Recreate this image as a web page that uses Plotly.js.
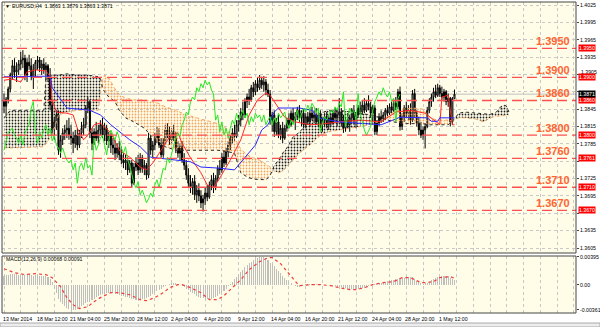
<!DOCTYPE html>
<html><head><meta charset="utf-8">
<script src="https://cdn.plot.ly/plotly-3.0.1.min.js"></script>
<style>html,body{margin:0;padding:0;background:#fff}#c{width:600px;height:327px}</style>
</head><body><div id="c"></div>
<script>
// ---------- DATA (EURUSD H4) ----------
const open=[1.3858,1.3850,1.3862,1.3880,1.3904,1.3920,1.3909,1.3913,1.3923,1.3930,
1.3933,1.3904,1.3926,1.3920,1.3901,1.3913,1.3926,1.3930,1.3916,1.3923,
1.3913,1.3920,1.3899,1.3852,1.3812,1.3823,1.3835,1.3774,1.3792,1.3804,
1.3809,1.3812,1.3800,1.3795,1.3786,1.3800,1.3783,1.3804,1.3812,1.3818,
1.3847,1.3858,1.3804,1.3786,1.3806,1.3795,1.3809,1.3818,1.3800,1.3812,
1.3790,1.3800,1.3783,1.3778,1.3769,1.3778,1.3766,1.3757,1.3752,1.3757,
1.3740,1.3752,1.3717,1.3745,1.3752,1.3740,1.3761,1.3743,1.3748,1.3731,
1.3795,1.3774,1.3783,1.3795,1.3800,1.3783,1.3766,1.3790,1.3809,1.3800,
1.3792,1.3806,1.3795,1.3778,1.3769,1.3780,1.3757,1.3748,1.3731,1.3717,
1.3709,1.3720,1.3697,1.3705,1.3695,1.3683,1.3690,1.3700,1.3693,1.3714,
1.3723,1.3709,1.3726,1.3743,1.3740,1.3762,1.3752,1.3771,1.3783,1.3795,
1.3804,1.3798,1.3818,1.3826,1.3840,1.3835,1.3858,1.3866,1.3861,1.3882,
1.3875,1.3889,1.3882,1.3895,1.3887,1.3892,1.3878,1.3871,1.3826,1.3835,
1.3806,1.3823,1.3800,1.3812,1.3795,1.3812,1.3826,1.3818,1.3838,1.3826,
1.3832,1.3843,1.3830,1.3838,1.3818,1.3832,1.3823,1.3838,1.3830,1.3835,
1.3823,1.3835,1.3818,1.3826,1.3832,1.3818,1.3830,1.3821,1.3838,1.3830,
1.3835,1.3840,1.3821,1.3812,1.3826,1.3818,1.3830,1.3843,1.3826,1.3835,
1.3847,1.3840,1.3852,1.3843,1.3855,1.3849,1.3838,1.3847,1.3806,1.3821,
1.3832,1.3826,1.3835,1.3843,1.3838,1.3849,1.3843,1.3855,1.3849,1.3875,
1.3815,1.3832,1.3847,1.3838,1.3843,1.3826,1.3872,1.3838,1.3821,1.3809,
1.3800,1.3809,1.3815,1.3843,1.3858,1.3866,1.3875,1.3869,1.3882,1.3872,
1.3866,1.3875,1.3858,1.3864,1.3823,1.3863];
const high=[1.3872,1.3866,1.3884,1.3908,1.3930,1.3933,1.3926,1.3930,1.3944,1.3947,
1.3939,1.3933,1.3939,1.3933,1.3923,1.3930,1.3937,1.3935,1.3930,1.3933,
1.3926,1.3923,1.3916,1.3861,1.3830,1.3843,1.3843,1.3800,1.3812,1.3818,
1.3826,1.3830,1.3818,1.3806,1.3809,1.3812,1.3809,1.3823,1.3830,1.3852,
1.3866,1.3861,1.3812,1.3812,1.3823,1.3818,1.3826,1.3830,1.3821,1.3818,
1.3806,1.3804,1.3795,1.3792,1.3786,1.3790,1.3780,1.3769,1.3766,1.3762,
1.3757,1.3757,1.3752,1.3762,1.3766,1.3769,1.3766,1.3757,1.3752,1.3804,
1.3800,1.3790,1.3804,1.3815,1.3812,1.3795,1.3795,1.3818,1.3821,1.3815,
1.3812,1.3818,1.3806,1.3790,1.3786,1.3790,1.3769,1.3757,1.3743,1.3731,
1.3726,1.3731,1.3714,1.3717,1.3705,1.3697,1.3709,1.3714,1.3720,1.3731,
1.3735,1.3731,1.3748,1.3757,1.3769,1.3774,1.3778,1.3790,1.3800,1.3812,
1.3818,1.3826,1.3835,1.3847,1.3858,1.3864,1.3872,1.3880,1.3887,1.3892,
1.3895,1.3899,1.3904,1.3901,1.3902,1.3897,1.3889,1.3878,1.3840,1.3843,
1.3830,1.3835,1.3818,1.3823,1.3818,1.3830,1.3838,1.3843,1.3847,1.3840,
1.3849,1.3852,1.3843,1.3847,1.3838,1.3840,1.3843,1.3849,1.3843,1.3847,
1.3840,1.3843,1.3830,1.3838,1.3840,1.3835,1.3838,1.3843,1.3847,1.3843,
1.3864,1.3847,1.3835,1.3830,1.3838,1.3835,1.3847,1.3852,1.3840,1.3852,
1.3858,1.3861,1.3864,1.3861,1.3869,1.3858,1.3852,1.3852,1.3826,1.3838,
1.3843,1.3840,1.3847,1.3852,1.3855,1.3858,1.3861,1.3866,1.3880,1.3884,
1.3838,1.3852,1.3858,1.3852,1.3855,1.3878,1.3880,1.3843,1.3832,1.3823,
1.3815,1.3820,1.3849,1.3864,1.3872,1.3882,1.3887,1.3889,1.3887,1.3884,
1.3880,1.3878,1.3872,1.3866,1.3866,1.3879];
const low=[1.3838,1.3834,1.3855,1.3874,1.3896,1.3899,1.3892,1.3904,1.3913,1.3916,
1.3895,1.3892,1.3913,1.3895,1.3880,1.3899,1.3913,1.3909,1.3904,1.3906,
1.3895,1.3892,1.3843,1.3800,1.3792,1.3809,1.3766,1.3761,1.3783,1.3792,
1.3795,1.3792,1.3783,1.3769,1.3778,1.3774,1.3778,1.3795,1.3800,1.3812,
1.3838,1.3795,1.3774,1.3783,1.3790,1.3786,1.3800,1.3795,1.3790,1.3783,
1.3778,1.3769,1.3766,1.3757,1.3761,1.3757,1.3750,1.3743,1.3740,1.3731,
1.3735,1.3709,1.3714,1.3738,1.3731,1.3735,1.3735,1.3731,1.3723,1.3726,
1.3766,1.3762,1.3774,1.3786,1.3778,1.3761,1.3761,1.3783,1.3795,1.3783,
1.3786,1.3790,1.3769,1.3761,1.3757,1.3752,1.3740,1.3723,1.3709,1.3700,
1.3697,1.3688,1.3683,1.3686,1.3674,1.3668,1.3679,1.3686,1.3690,1.3705,
1.3700,1.3705,1.3720,1.3731,1.3735,1.3745,1.3748,1.3762,1.3774,1.3786,
1.3790,1.3795,1.3806,1.3815,1.3826,1.3830,1.3847,1.3852,1.3858,1.3866,
1.3869,1.3875,1.3878,1.3880,1.3875,1.3869,1.3866,1.3818,1.3806,1.3797,
1.3800,1.3795,1.3792,1.3786,1.3792,1.3806,1.3812,1.3815,1.3821,1.3809,
1.3826,1.3823,1.3815,1.3812,1.3812,1.3818,1.3815,1.3826,1.3821,1.3818,
1.3815,1.3812,1.3806,1.3815,1.3812,1.3809,1.3815,1.3818,1.3823,1.3815,
1.3826,1.3815,1.3804,1.3806,1.3812,1.3806,1.3823,1.3818,1.3812,1.3830,
1.3835,1.3835,1.3838,1.3840,1.3843,1.3830,1.3826,1.3800,1.3800,1.3815,
1.3821,1.3823,1.3826,1.3832,1.3835,1.3838,1.3840,1.3843,1.3845,1.3808,
1.3809,1.3823,1.3830,1.3826,1.3818,1.3823,1.3830,1.3815,1.3800,1.3795,
1.3792,1.3777,1.3812,1.3838,1.3849,1.3858,1.3864,1.3866,1.3866,1.3861,
1.3858,1.3852,1.3849,1.3815,1.3818,1.3863];
const close=[1.3850,1.3862,1.3880,1.3904,1.3920,1.3909,1.3913,1.3923,1.3930,1.3933,
1.3904,1.3926,1.3920,1.3901,1.3913,1.3926,1.3930,1.3916,1.3923,1.3913,
1.3920,1.3899,1.3852,1.3812,1.3823,1.3835,1.3774,1.3792,1.3804,1.3809,
1.3812,1.3800,1.3795,1.3786,1.3800,1.3783,1.3804,1.3812,1.3818,1.3847,
1.3858,1.3804,1.3786,1.3806,1.3795,1.3809,1.3818,1.3800,1.3812,1.3790,
1.3800,1.3783,1.3778,1.3769,1.3778,1.3766,1.3757,1.3752,1.3757,1.3740,
1.3752,1.3717,1.3745,1.3752,1.3740,1.3761,1.3743,1.3748,1.3731,1.3795,
1.3774,1.3783,1.3795,1.3800,1.3783,1.3766,1.3790,1.3809,1.3800,1.3792,
1.3806,1.3795,1.3778,1.3769,1.3780,1.3757,1.3748,1.3731,1.3717,1.3709,
1.3720,1.3697,1.3705,1.3695,1.3683,1.3690,1.3700,1.3693,1.3714,1.3723,
1.3709,1.3726,1.3743,1.3740,1.3762,1.3752,1.3771,1.3783,1.3795,1.3804,
1.3798,1.3818,1.3826,1.3840,1.3835,1.3858,1.3866,1.3861,1.3882,1.3875,
1.3889,1.3882,1.3895,1.3887,1.3892,1.3878,1.3871,1.3826,1.3835,1.3806,
1.3823,1.3800,1.3812,1.3795,1.3812,1.3826,1.3818,1.3838,1.3826,1.3832,
1.3843,1.3830,1.3838,1.3818,1.3832,1.3823,1.3838,1.3830,1.3835,1.3823,
1.3835,1.3818,1.3826,1.3832,1.3818,1.3830,1.3821,1.3838,1.3830,1.3835,
1.3840,1.3821,1.3812,1.3826,1.3818,1.3830,1.3843,1.3826,1.3835,1.3847,
1.3840,1.3852,1.3843,1.3855,1.3849,1.3838,1.3847,1.3806,1.3821,1.3832,
1.3826,1.3835,1.3843,1.3838,1.3849,1.3843,1.3855,1.3849,1.3875,1.3815,
1.3832,1.3847,1.3838,1.3843,1.3826,1.3872,1.3838,1.3821,1.3809,1.3800,
1.3809,1.3815,1.3843,1.3858,1.3866,1.3875,1.3869,1.3882,1.3872,1.3866,
1.3875,1.3858,1.3864,1.3823,1.3863,1.3871];

// Ichimoku lines (sampled readings)
const tenkanBar=[0,4,8,11,15,20,22,23,25,30,33,35,38,40,43,46,51,55,60,65,68,71,75,79,83,85,89,94,97,100,103,108,113,117,121,125,127,130,134,139,146,151,160,170,180,187,194,201,208,209,212,214,215];
const tenkan=[1.3895,1.3897,1.3892,1.3909,1.3913,1.3911,1.3902,1.3861,1.3840,1.3838,1.3835,1.3812,1.3792,1.3800,1.3818,1.3821,1.3804,1.3774,1.3762,1.3745,1.3740,1.3752,1.3774,1.3797,1.3804,1.3786,1.3761,1.3735,1.3714,1.3709,1.3726,1.3757,1.3792,1.3835,1.3861,1.3873,1.3869,1.3852,1.3831,1.3823,1.3818,1.3819,1.3823,1.3826,1.3823,1.3840,1.3843,1.3838,1.3818,1.3866,1.3869,1.3818,1.3818];
const kijunBar=[0,12,22,23,27,30,41,46,51,55,60,65,70,82,89,94,103,110,114,120,123,126,129,131,141,147,150,160,180,189,202,204,207,208,215];
const kijun=[1.3901,1.3902,1.3902,1.3882,1.3861,1.3847,1.3843,1.3835,1.3818,1.3806,1.3792,1.3780,1.3762,1.3757,1.3754,1.3745,1.3743,1.3740,1.3757,1.3783,1.3809,1.3818,1.3840,1.3847,1.3847,1.3843,1.3830,1.3823,1.3818,1.3831,1.3830,1.3824,1.3824,1.3830,1.3830];
const cloudBar=[0,3,19,20,23,26,30,35,40,45,46,47,48,50,53,55,58,62,67,72,77,82,87,92,97,102,106,110,113,116,119,122,125,127,129,131,133,135,138,141,146,151,155,160,165,170,175,180,183,186,190,195,200,203,207,212,215,217,220,225,229,232,235,237,239,240,241];
const spanA=[1.3778,1.3778,1.3780,1.3785,1.3800,1.3835,1.3840,1.3843,1.3843,1.3843,1.3870,1.3895,1.3904,1.3899,1.3880,1.3870,1.3864,1.3861,1.3861,1.3858,1.3849,1.3843,1.3835,1.3830,1.3826,1.3820,1.3812,1.3795,1.3776,1.3766,1.3761,1.3757,1.3750,1.3745,1.3738,1.3735,1.3738,1.3745,1.3757,1.3769,1.3783,1.3800,1.3806,1.3809,1.3812,1.3815,1.3818,1.3826,1.3832,1.3840,1.3845,1.3847,1.3845,1.3830,1.3826,1.3826,1.3826,1.3830,1.3830,1.3828,1.3823,1.3830,1.3833,1.3833,1.3835,1.3835,1.3835];
const spanB=[1.3830,1.3843,1.3843,1.3899,1.3904,1.3904,1.3906,1.3904,1.3904,1.3901,1.3899,1.3882,1.3875,1.3866,1.3858,1.3843,1.3830,1.3823,1.3812,1.3792,1.3780,1.3774,1.3774,1.3774,1.3774,1.3774,1.3772,1.3769,1.3735,1.3728,1.3724,1.3723,1.3723,1.3730,1.3748,1.3757,1.3769,1.3778,1.3797,1.3805,1.3826,1.3838,1.3843,1.3843,1.3840,1.3838,1.3835,1.3830,1.3826,1.3823,1.3820,1.3820,1.3820,1.3818,1.3818,1.3818,1.3828,1.3838,1.3840,1.3838,1.3836,1.3836,1.3840,1.3849,1.3852,1.3849,1.3840];
const chikouShift=26;

// MACD(12,26,9)
const macd=[0.00125,0.00132,0.00140,0.00150,0.00155,0.00152,0.00148,0.00145,0.00143,0.00145,
0.00140,0.00138,0.00140,0.00135,0.00130,0.00133,0.00135,0.00130,0.00128,0.00125,
0.00122,0.00110,0.00080,0.00040,-0.00060,-0.00120,-0.00200,-0.00240,-0.00280,-0.00310,
-0.00330,-0.00345,-0.00355,-0.00361,-0.00358,-0.00345,-0.00330,-0.00310,-0.00290,-0.00260,
-0.00245,-0.00240,-0.00225,-0.00200,-0.00180,-0.00165,-0.00150,-0.00140,-0.00130,-0.00122,
-0.00118,-0.00115,-0.00120,-0.00128,-0.00135,-0.00143,-0.00155,-0.00165,-0.00175,-0.00182,
-0.00188,-0.00198,-0.00205,-0.00212,-0.00214,-0.00214,-0.00210,-0.00205,-0.00190,-0.00170,
-0.00160,-0.00140,-0.00115,-0.00095,-0.00075,-0.00055,-0.00035,-0.00015,0.00000,0.00015,
0.00025,0.00030,0.00025,0.00015,0.00000,-0.00020,-0.00040,-0.00060,-0.00080,-0.00100,
-0.00120,-0.00140,-0.00160,-0.00175,-0.00185,-0.00195,-0.00205,-0.00210,-0.00210,-0.00205,
-0.00195,-0.00180,-0.00160,-0.00140,-0.00115,-0.00085,-0.00055,-0.00025,0.00010,0.00045,
0.00080,0.00115,0.00150,0.00185,0.00215,0.00250,0.00280,0.00305,0.00330,0.00355,
0.00370,0.00385,0.00392,0.00395,0.00390,0.00380,0.00350,0.00315,0.00290,0.00260,
0.00225,0.00190,0.00165,0.00130,0.00100,0.00070,0.00045,0.00020,0.00000,-0.00020,
-0.00030,-0.00030,-0.00015,-0.00005,0.00005,0.00010,0.00015,0.00012,0.00010,0.00008,
0.00005,0.00005,0.00002,0.00000,-0.00002,-0.00005,-0.00008,-0.00015,-0.00022,-0.00030,
-0.00035,-0.00040,-0.00048,-0.00052,-0.00055,-0.00058,-0.00062,-0.00065,-0.00068,-0.00065,
-0.00058,-0.00050,-0.00042,-0.00030,-0.00018,-0.00008,0.00002,0.00008,0.00012,0.00020,
0.00028,0.00035,0.00040,0.00048,0.00055,0.00062,0.00070,0.00078,0.00085,0.00092,
0.00098,0.00102,0.00108,0.00112,0.00115,0.00105,0.00080,0.00055,0.00035,0.00020,
0.00015,0.00018,0.00030,0.00045,0.00060,0.00075,0.00090,0.00105,0.00112,0.00118,
0.00122,0.00125,0.00120,0.00095,0.00080,0.00068];
const signalBar=[0,5,10,15,20,23,27,30,33,36,40,43,46,51,55,60,65,68,72,76,79,83,85,89,94,98,102,105,109,113,117,122,126,128,132,137,140,141,146,151,156,160,165,168,172,176,181,186,190,194,196,199,201,205,208,213,215];
const signal=[0.00228,0.00171,0.00143,0.00157,0.00143,0.00100,-0.00029,-0.00185,-0.00285,-0.00342,-0.00314,-0.00242,-0.00185,-0.00114,-0.00114,-0.00143,-0.00214,-0.00228,-0.00185,-0.00114,-0.00043,0,0,-0.00043,-0.00114,-0.00214,-0.00214,-0.00157,-0.00043,0.00071,0.00214,0.00328,0.00385,0.00385,0.00300,0.00114,0.00014,-0.00014,0,0,-0.00014,-0.00043,-0.00071,-0.00071,-0.00043,0,0.00029,0.00043,0.00100,0.00100,0.00071,0.00029,0.00029,0.00043,0.00100,0.00114,0.00091];

// levels & labels
const levels=[1.3950,1.3900,1.3860,1.3800,1.3760,1.3710,1.3670];
const levelText=["1.3950","1.3900","1.3860","1.3800","1.3760","1.3710","1.3670"];
const levelBoxText=["1.3950","1.3900","1.3860","1.3800","1.3761","1.3710","1.3670"];
const bidPrice=1.3871, bidText="1.3871";
const priceTicks=[1.3605,1.3635,1.3665,1.3695,1.3725,1.3755,1.3785,1.3815,1.3845,1.3875,1.3905,1.3935,1.3965,1.3995,1.4025];
const priceTickText=["1.3605","1.3635","","1.3695","1.3725","","1.3785","1.3815","1.3845","","","1.3935","1.3965","1.3995","1.4025"];
const nudgedTick=1.3905, nudgedTickText="1.3905";
const macdTicks=[0.00395,0,-0.00361];
const macdTickText=["0.00395","0.00","-0.00361"];
const gridBars=[0,8,16,24,32,40,48,56,64,72,80,88,96,104,112,120,128,136,144,152,160,168,176,184,192,200,208,216,224,232,240,248,256,264,272];
const dateBars=[0,16,32,48,64,80,96,112,128,144,160,176,192,208];
const dateText=["13 Mar 2014","18 Mar 12:00","21 Mar 04:00","25 Mar 20:00","28 Mar 12:00","2 Apr 04:00","4 Apr 20:00","9 Apr 12:00","14 Apr 04:00","16 Apr 20:00","21 Apr 12:00","24 Apr 04:00","28 Apr 20:00","1 May 12:00"];
const headerText="EURUSD,H4  1.3863 1.3879 1.3863 1.3871";
const macdText="MACD(12,26,9) 0.00068 0.00091";

// ---------- BUILD ----------
const bars=close.map((_,i)=>i);
const W=600,H=327,ML=2,MR=24,MT=2,MB=14;
const px=x=>(x-ML)/(W-ML-MR);
const py=y=>(H-MB-y)/(H-MT-MB);
const FONT="Liberation Sans, Arial, sans-serif";
const SMALL=5.2;

const traces=[];
function cloudSegments(){
  const segs=[];let cur=null;
  for(let i=0;i<cloudBar.length;i++){
    const d=spanA[i]-spanB[i];const s=d>=0?1:-1;
    if(!cur){cur={s:s,x:[cloudBar[i]],a:[spanA[i]],b:[spanB[i]]};continue;}
    if(s===cur.s){cur.x.push(cloudBar[i]);cur.a.push(spanA[i]);cur.b.push(spanB[i]);}
    else{
      const d0=spanA[i-1]-spanB[i-1];const t=d0/(d0-d);
      const xc=cloudBar[i-1]+t*(cloudBar[i]-cloudBar[i-1]);
      const yc=spanA[i-1]+t*(spanA[i]-spanA[i-1]);
      cur.x.push(xc);cur.a.push(yc);cur.b.push(yc);segs.push(cur);
      cur={s:s,x:[xc,cloudBar[i]],a:[yc,spanA[i]],b:[yc,spanB[i]]};
    }
  }
  segs.push(cur);return segs;
}
cloudSegments().forEach(sg=>{
  const col=sg.s>0?'rgb(244,164,96)':'rgb(30,30,30)';
  traces.push({type:'scatter',mode:'lines',xaxis:'x',yaxis:'y',
    x:sg.x.concat(sg.x.slice().reverse()),y:sg.a.concat(sg.b.slice().reverse()),
    fill:'toself',fillcolor:'rgba(0,0,0,0)',line:{width:0},
    fillpattern:{shape:'.',fgcolor:col,bgcolor:'rgba(0,0,0,0)',size:3,solidity:0.28},
    hoverinfo:'skip',showlegend:false});
});
traces.push({type:'scatter',mode:'lines',x:cloudBar,y:spanA,xaxis:'x',yaxis:'y',line:{color:'rgb(244,164,96)',width:1,dash:'dot'},showlegend:false});
traces.push({type:'scatter',mode:'lines',x:cloudBar,y:spanB,xaxis:'x',yaxis:'y',line:{color:'rgb(40,40,40)',width:1,dash:'dot'},showlegend:false});
traces.push({type:'candlestick',x:bars,open:open,high:high,low:low,close:close,xaxis:'x',yaxis:'y',
  increasing:{line:{color:'#000',width:1},fillcolor:'#fff'},
  decreasing:{line:{color:'#000',width:1},fillcolor:'#000'},whiskerwidth:0,showlegend:false});
traces.push({type:'scatter',mode:'lines',x:tenkanBar,y:tenkan,xaxis:'x',yaxis:'y',line:{color:'rgb(255,40,40)',width:1},showlegend:false});
traces.push({type:'scatter',mode:'lines',x:kijunBar,y:kijun,xaxis:'x',yaxis:'y',line:{color:'rgb(40,40,255)',width:1},showlegend:false});
const chik=close.slice(chikouShift);
traces.push({type:'scatter',mode:'lines',x:chik.map((_,i)=>i),y:chik,xaxis:'x',yaxis:'y',line:{color:'rgb(40,230,40)',width:1},showlegend:false});
traces.push({type:'bar',x:bars,y:macd,xaxis:'x',yaxis:'y2',width:0.5,marker:{color:'rgb(190,190,190)',line:{width:0}},showlegend:false});
traces.push({type:'scatter',mode:'lines',x:signalBar,y:signal,xaxis:'x',yaxis:'y2',line:{color:'rgb(240,60,60)',width:1.2,dash:'dot'},showlegend:false});

const shapes=[];
shapes.push({type:'line',xref:'paper',x0:0,x1:1,yref:'y',y0:bidPrice,y1:bidPrice,line:{color:'rgb(192,192,192)',width:1},layer:'below'});
levels.forEach(l=>shapes.push({type:'line',xref:'paper',x0:0,x1:1,yref:'y',y0:l,y1:l,line:{color:'rgb(255,80,80)',width:1.3,dash:'10px,5px'},layer:'above'}));
shapes.push({type:'rect',xref:'paper',yref:'paper',x0:0,x1:1,y0:py(253),y1:1,line:{color:'rgb(70,70,70)',width:1},fillcolor:'rgba(0,0,0,0)'});
shapes.push({type:'rect',xref:'paper',yref:'paper',x0:0,x1:1,y0:0,y1:py(256),line:{color:'rgb(70,70,70)',width:1},fillcolor:'rgba(0,0,0,0)'});
shapes.push({type:'rect',xref:'paper',yref:'paper',x0:px(0),x1:px(600),y0:py(327),y1:py(323),line:{color:'rgb(170,170,170)',width:1},fillcolor:'rgb(236,236,236)'});

const ann=[];
ann.push({xref:'paper',yref:'paper',x:px(3),y:py(6),xanchor:'left',yanchor:'middle',text:'▼',showarrow:false,font:{family:FONT,size:5,color:'#000'}});
ann.push({xref:'paper',yref:'paper',x:px(10),y:py(6),xanchor:'left',yanchor:'middle',text:headerText,showarrow:false,font:{family:FONT,size:SMALL,color:'#000'}});
ann.push({xref:'paper',yref:'paper',x:px(4),y:py(259),xanchor:'left',yanchor:'middle',text:macdText,showarrow:false,font:{family:FONT,size:SMALL,color:'#000'}});
dateBars.forEach((b,i)=>ann.push({xref:'x',yref:'paper',x:b,y:py(315),xanchor:'left',yanchor:'top',xshift:-2,text:dateText[i],showarrow:false,borderpad:0,font:{family:FONT,size:SMALL,color:'#000'}}));
ann.push({xref:'paper',yref:'y',x:px(580),y:nudgedTick,yshift:2.5,xanchor:'left',yanchor:'middle',text:nudgedTickText,showarrow:false,borderpad:0,font:{family:FONT,size:SMALL,color:'#000'}});
levels.forEach((l,i)=>{
  ann.push({xref:'paper',yref:'y',x:px(572),y:l,yshift:7,xanchor:'right',yanchor:'middle',text:levelText[i],showarrow:false,font:{family:FONT,size:11,color:'rgb(255,100,50)',weight:'bold'}});
  ann.push({xref:'paper',yref:'y',x:px(578),y:l,xanchor:'left',yanchor:'middle',text:levelBoxText[i],showarrow:false,bgcolor:'rgb(255,0,0)',borderpad:0,font:{family:FONT,size:SMALL,color:'#fff'}});
});
ann.push({xref:'paper',yref:'y',x:px(578),y:bidPrice,xanchor:'left',yanchor:'middle',text:bidText,showarrow:false,bgcolor:'#000',borderpad:0,font:{family:FONT,size:SMALL,color:'#fff'}});

const layout={width:W,height:H,margin:{l:ML,r:MR,t:MT,b:MB,pad:0},
  paper_bgcolor:'#fff',plot_bgcolor:'rgb(255,253,232)',showlegend:false,bargap:0,
  xaxis:{range:[-0.955,273.0],anchor:'y2',tickvals:gridBars,showticklabels:false,
    showgrid:true,gridcolor:'rgb(200,200,200)',griddash:'dot',gridwidth:1,zeroline:false,showline:false,ticks:'',
    rangeslider:{visible:false},fixedrange:true},
  yaxis:{domain:[py(253),1],range:[1.35964,1.40302],side:'right',anchor:'x',tickvals:priceTicks,ticktext:priceTickText,
    showgrid:true,gridcolor:'rgb(200,200,200)',griddash:'dot',zeroline:false,showline:false,ticks:'outside',ticklen:2,tickcolor:'#444',
    tickfont:{family:FONT,size:SMALL,color:'#000'},fixedrange:true},
  yaxis2:{domain:[0,py(256)],range:[-0.00404,0.00409],side:'right',anchor:'x',tickvals:macdTicks,ticktext:macdTickText,
    showgrid:false,zeroline:false,showline:false,ticks:'outside',ticklen:2,tickcolor:'#444',
    tickfont:{family:FONT,size:SMALL,color:'#000'},fixedrange:true},
  shapes:shapes,annotations:ann};
Plotly.newPlot('c',traces,layout,{staticPlot:true,displayModeBar:false});
</script></body></html>
